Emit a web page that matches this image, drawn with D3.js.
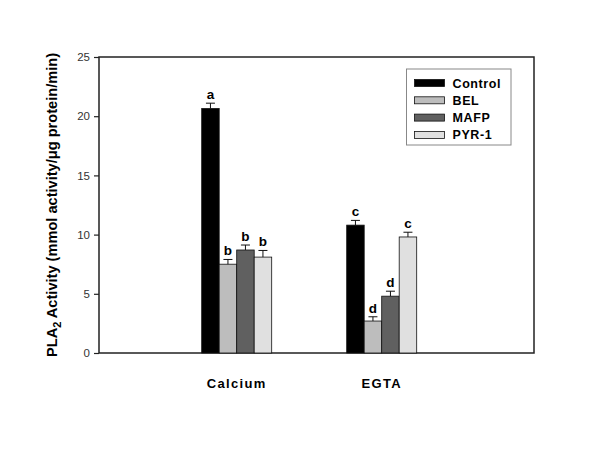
<!DOCTYPE html>
<html>
<head>
<meta charset="utf-8">
<script src="https://cdn.jsdelivr.net/npm/d3@7"></script>
<style>
  body { margin: 0; background: #fff; }
  svg { font-family: Arial, "Liberation Sans", sans-serif; }
</style>
</head>
<body>
<svg id="chart" width="600" height="450"></svg>
<script>
// data
const categories = ['Calcium', 'EGTA'];
const treatments = ['Control', 'BEL', 'MAFP', 'PYR-1'];
const colors = ['#000000', '#bdbdbd', '#606060', '#e0e0e0'];
const meanCalcium = [20.65, 7.5, 8.7, 8.1];
const errCalcium = [0.45, 0.4, 0.42, 0.56];
const meanEGTA = [10.8, 2.7, 4.8, 9.8];
const errEGTA = [0.4, 0.36, 0.42, 0.4];
const lettersCalcium = ['a', 'b', 'b', 'b'];
const lettersEGTA = ['c', 'd', 'd', 'c'];
const yTicks = [0, 5, 10, 15, 20, 25];

const groups = [
  { cat: categories[0], mean: meanCalcium, err: errCalcium, letters: lettersCalcium },
  { cat: categories[1], mean: meanEGTA, err: errEGTA, letters: lettersEGTA }
];

const plotL = 99, plotR = 534, plotT = 57, plotB = 353;
const barW = 17.5;

const svg = d3.select('#chart');

const y = d3.scaleLinear().domain([0, 25]).range([plotB, plotT]);
// group centres
const x = d3.scalePoint().domain(categories).range([236.7, 381.7]);
const xi = d3.scaleBand().domain(treatments).range([-2 * barW, 2 * barW]);

// frame
svg.append('rect')
  .attr('x', plotL).attr('y', plotT)
  .attr('width', plotR - plotL).attr('height', plotB - plotT)
  .attr('fill', 'none').attr('stroke', '#222').attr('stroke-width', 1.5);

// y axis
const yAxis = svg.append('g')
  .attr('transform', `translate(${plotL},0)`)
  .call(d3.axisLeft(y).tickValues(yTicks).tickSize(5).tickPadding(4));
yAxis.select('.domain').remove();
yAxis.selectAll('line').attr('stroke', '#222').attr('stroke-width', 1.2);
yAxis.selectAll('text').attr('font-size', 11.5).attr('fill', '#333')
  .attr('font-family', 'Arial, "Liberation Sans", sans-serif');

// bars
const g = svg.selectAll('g.grp').data(groups).enter().append('g')
  .attr('class', 'grp')
  .attr('transform', d => `translate(${x(d.cat)},0)`);

treatments.forEach((t, i) => {
  g.append('rect')
    .attr('x', xi(t))
    .attr('y', d => y(d.mean[i]))
    .attr('width', xi.bandwidth())
    .attr('height', d => y(0) - y(d.mean[i]))
    .attr('fill', colors[i])
    .attr('stroke', '#111').attr('stroke-width', 0.8);

  const cx = xi(t) + xi.bandwidth() / 2;
  g.append('line')
    .attr('x1', cx).attr('x2', cx)
    .attr('y1', d => y(d.mean[i]))
    .attr('y2', d => y(d.mean[i] + d.err[i]))
    .attr('stroke', '#111').attr('stroke-width', 1);
  g.append('line')
    .attr('x1', cx - 4.5).attr('x2', cx + 4.5)
    .attr('y1', d => y(d.mean[i] + d.err[i]))
    .attr('y2', d => y(d.mean[i] + d.err[i]))
    .attr('stroke', '#111').attr('stroke-width', 1);
  g.append('text')
    .attr('x', cx)
    .attr('y', d => y(d.mean[i] + d.err[i]) - 4)
    .attr('text-anchor', 'middle')
    .attr('font-size', 13.5).attr('font-weight', 'bold')
    .text(d => d.letters[i]);
});

// category labels
svg.selectAll('text.cat').data(categories).enter().append('text')
  .attr('class', 'cat')
  .attr('x', d => x(d))
  .attr('y', 388)
  .attr('text-anchor', 'middle')
  .attr('font-size', 13).attr('font-weight', 'bold')
  .attr('letter-spacing', 1.3)
  .text(d => d);

// y label
const yl = svg.append('text')
  .attr('transform', `translate(57,${(plotT + plotB) / 2}) rotate(-90)`)
  .attr('text-anchor', 'middle')
  .attr('font-size', 14.6).attr('font-weight', 'bold');
yl.append('tspan').text('PLA');
yl.append('tspan').attr('font-size', 11).attr('dy', 4).text('2');
yl.append('tspan').attr('dy', -4).text(' Activity (mmol activity/\u03bcg protein/min)');

// legend
const lg = svg.append('g').attr('transform', 'translate(406.5,69)');
lg.append('rect')
  .attr('width', 104.5).attr('height', 76)
  .attr('fill', '#fff').attr('stroke', '#888').attr('stroke-width', 1);
treatments.forEach((t, i) => {
  const ry = 14 + i * 17.3;
  lg.append('rect')
    .attr('x', 8).attr('y', ry - 3.5)
    .attr('width', 30).attr('height', 7)
    .attr('fill', colors[i]).attr('stroke', '#111').attr('stroke-width', 0.8);
  lg.append('text')
    .attr('x', 46).attr('y', ry + 4.5)
    .attr('font-size', 12.5).attr('font-weight', 'bold')
    .attr('letter-spacing', 0.6)
    .text(t);
});
</script>
</body>
</html>
